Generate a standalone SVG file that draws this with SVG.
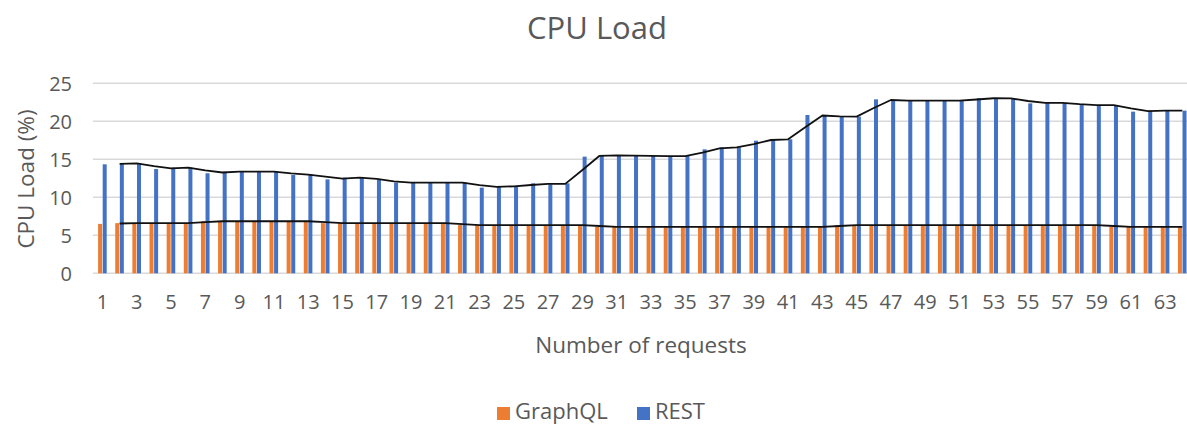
<svg xmlns="http://www.w3.org/2000/svg" width="1187" height="425" viewBox="0 0 1187 425">
<style>
text{font-family:"Open Sans","Liberation Sans",sans-serif;fill:#595959}
.grid{stroke:#D9D9D9;stroke-width:1.5}
.g{fill:#ED7D31}
.r{fill:#4472C4}
.ma{fill:none;stroke:#111;stroke-width:1.8;stroke-linejoin:round}
.yt{font-size:20px;text-anchor:end}
.xt{font-size:20px;text-anchor:middle}
</style>
<rect width="1187" height="425" fill="#fff"/>
<text x="597" y="39" font-size="31" text-anchor="middle">CPU Load</text>
<g id="gridlines">
<line class="grid" x1="93" y1="83.3" x2="1187" y2="83.3"/>
<line class="grid" x1="93" y1="121.3" x2="1187" y2="121.3"/>
<line class="grid" x1="93" y1="159.3" x2="1187" y2="159.3"/>
<line class="grid" x1="93" y1="197.3" x2="1187" y2="197.3"/>
<line class="grid" x1="93" y1="235.3" x2="1187" y2="235.3"/>
<line class="grid" x1="93" y1="273.3" x2="1187" y2="273.3"/>
</g>
<g id="y-axis">
<text class="yt" x="72" y="90.5">25</text>
<text class="yt" x="72" y="128.5">20</text>
<text class="yt" x="72" y="166.5">15</text>
<text class="yt" x="72" y="204.5">10</text>
<text class="yt" x="72" y="242.5">5</text>
<text class="yt" x="72" y="280.5">0</text>
<text transform="translate(34,179) rotate(-90)" font-size="22.5" text-anchor="middle">CPU Load (%)</text>
</g>
<g id="graphql-bars">
<rect class="g" x="98.1" y="223.9" width="4" height="49.4"/>
<rect class="g" x="115.24" y="223.14" width="4" height="50.16"/>
<rect class="g" x="132.38" y="223.14" width="4" height="50.16"/>
<rect class="g" x="149.52" y="223.14" width="4" height="50.16"/>
<rect class="g" x="166.66" y="223.14" width="4" height="50.16"/>
<rect class="g" x="183.8" y="223.14" width="4" height="50.16"/>
<rect class="g" x="200.94" y="221.24" width="4" height="52.06"/>
<rect class="g" x="218.08" y="221.24" width="4" height="52.06"/>
<rect class="g" x="235.22" y="221.24" width="4" height="52.06"/>
<rect class="g" x="252.36" y="221.24" width="4" height="52.06"/>
<rect class="g" x="269.5" y="221.24" width="4" height="52.06"/>
<rect class="g" x="286.64" y="221.24" width="4" height="52.06"/>
<rect class="g" x="303.78" y="221.24" width="4" height="52.06"/>
<rect class="g" x="320.92" y="223.14" width="4" height="50.16"/>
<rect class="g" x="338.06" y="223.14" width="4" height="50.16"/>
<rect class="g" x="355.2" y="223.14" width="4" height="50.16"/>
<rect class="g" x="372.34" y="223.14" width="4" height="50.16"/>
<rect class="g" x="389.48" y="223.14" width="4" height="50.16"/>
<rect class="g" x="406.62" y="223.14" width="4" height="50.16"/>
<rect class="g" x="423.76" y="223.14" width="4" height="50.16"/>
<rect class="g" x="440.9" y="223.14" width="4" height="50.16"/>
<rect class="g" x="458.04" y="225.04" width="4" height="48.26"/>
<rect class="g" x="475.18" y="225.04" width="4" height="48.26"/>
<rect class="g" x="492.32" y="225.04" width="4" height="48.26"/>
<rect class="g" x="509.46" y="225.04" width="4" height="48.26"/>
<rect class="g" x="526.6" y="225.04" width="4" height="48.26"/>
<rect class="g" x="543.74" y="225.04" width="4" height="48.26"/>
<rect class="g" x="560.88" y="225.04" width="4" height="48.26"/>
<rect class="g" x="578.02" y="225.04" width="4" height="48.26"/>
<rect class="g" x="595.16" y="226.94" width="4" height="46.36"/>
<rect class="g" x="612.3" y="226.94" width="4" height="46.36"/>
<rect class="g" x="629.44" y="226.94" width="4" height="46.36"/>
<rect class="g" x="646.58" y="226.94" width="4" height="46.36"/>
<rect class="g" x="663.72" y="226.94" width="4" height="46.36"/>
<rect class="g" x="680.86" y="226.94" width="4" height="46.36"/>
<rect class="g" x="698" y="226.94" width="4" height="46.36"/>
<rect class="g" x="715.14" y="226.94" width="4" height="46.36"/>
<rect class="g" x="732.28" y="226.94" width="4" height="46.36"/>
<rect class="g" x="749.42" y="226.94" width="4" height="46.36"/>
<rect class="g" x="766.56" y="226.94" width="4" height="46.36"/>
<rect class="g" x="783.7" y="226.94" width="4" height="46.36"/>
<rect class="g" x="800.84" y="226.94" width="4" height="46.36"/>
<rect class="g" x="817.98" y="226.94" width="4" height="46.36"/>
<rect class="g" x="835.12" y="225.04" width="4" height="48.26"/>
<rect class="g" x="852.26" y="225.04" width="4" height="48.26"/>
<rect class="g" x="869.4" y="225.04" width="4" height="48.26"/>
<rect class="g" x="886.54" y="225.04" width="4" height="48.26"/>
<rect class="g" x="903.68" y="225.04" width="4" height="48.26"/>
<rect class="g" x="920.82" y="225.04" width="4" height="48.26"/>
<rect class="g" x="937.96" y="225.04" width="4" height="48.26"/>
<rect class="g" x="955.1" y="225.04" width="4" height="48.26"/>
<rect class="g" x="972.24" y="225.04" width="4" height="48.26"/>
<rect class="g" x="989.38" y="225.04" width="4" height="48.26"/>
<rect class="g" x="1006.52" y="225.04" width="4" height="48.26"/>
<rect class="g" x="1023.66" y="225.04" width="4" height="48.26"/>
<rect class="g" x="1040.8" y="225.04" width="4" height="48.26"/>
<rect class="g" x="1057.94" y="225.04" width="4" height="48.26"/>
<rect class="g" x="1075.08" y="225.04" width="4" height="48.26"/>
<rect class="g" x="1092.22" y="225.04" width="4" height="48.26"/>
<rect class="g" x="1109.36" y="226.94" width="4" height="46.36"/>
<rect class="g" x="1126.5" y="226.94" width="4" height="46.36"/>
<rect class="g" x="1143.64" y="226.94" width="4" height="46.36"/>
<rect class="g" x="1160.78" y="226.94" width="4" height="46.36"/>
<rect class="g" x="1177.92" y="226.94" width="4" height="46.36"/>
</g>
<g id="rest-bars">
<rect class="r" x="102.7" y="164.32" width="4" height="108.98"/>
<rect class="r" x="119.84" y="163.33" width="4" height="109.97"/>
<rect class="r" x="136.98" y="163.33" width="4" height="109.97"/>
<rect class="r" x="154.12" y="169.03" width="4" height="104.27"/>
<rect class="r" x="171.26" y="167.66" width="4" height="105.64"/>
<rect class="r" x="188.4" y="167.66" width="4" height="105.64"/>
<rect class="r" x="205.54" y="173.28" width="4" height="100.02"/>
<rect class="r" x="222.68" y="171.69" width="4" height="101.61"/>
<rect class="r" x="239.82" y="171.69" width="4" height="101.61"/>
<rect class="r" x="256.96" y="171.69" width="4" height="101.61"/>
<rect class="r" x="274.1" y="171.69" width="4" height="101.61"/>
<rect class="r" x="291.24" y="175.03" width="4" height="98.27"/>
<rect class="r" x="308.38" y="174.04" width="4" height="99.26"/>
<rect class="r" x="325.52" y="179.36" width="4" height="93.94"/>
<rect class="r" x="342.66" y="177.69" width="4" height="95.61"/>
<rect class="r" x="359.8" y="177.69" width="4" height="95.61"/>
<rect class="r" x="376.94" y="179.97" width="4" height="93.33"/>
<rect class="r" x="394.08" y="182.63" width="4" height="90.67"/>
<rect class="r" x="411.22" y="182.63" width="4" height="90.67"/>
<rect class="r" x="428.36" y="182.63" width="4" height="90.67"/>
<rect class="r" x="445.5" y="182.63" width="4" height="90.67"/>
<rect class="r" x="462.64" y="182.63" width="4" height="90.67"/>
<rect class="r" x="479.78" y="187.65" width="4" height="85.65"/>
<rect class="r" x="496.92" y="185.98" width="4" height="87.32"/>
<rect class="r" x="514.06" y="186.66" width="4" height="86.64"/>
<rect class="r" x="531.2" y="183.32" width="4" height="89.98"/>
<rect class="r" x="548.34" y="184.38" width="4" height="88.92"/>
<rect class="r" x="565.48" y="183.32" width="4" height="89.98"/>
<rect class="r" x="582.62" y="156.64" width="4" height="116.66"/>
<rect class="r" x="599.76" y="154.97" width="4" height="118.33"/>
<rect class="r" x="616.9" y="155.65" width="4" height="117.65"/>
<rect class="r" x="634.04" y="155.65" width="4" height="117.65"/>
<rect class="r" x="651.18" y="156.03" width="4" height="117.27"/>
<rect class="r" x="668.32" y="156.03" width="4" height="117.27"/>
<rect class="r" x="685.46" y="156.03" width="4" height="117.27"/>
<rect class="r" x="702.6" y="149.34" width="4" height="123.96"/>
<rect class="r" x="719.74" y="147.37" width="4" height="125.93"/>
<rect class="r" x="736.88" y="147.37" width="4" height="125.93"/>
<rect class="r" x="754.02" y="140.68" width="4" height="132.62"/>
<rect class="r" x="771.16" y="139.31" width="4" height="133.99"/>
<rect class="r" x="788.3" y="139.31" width="4" height="133.99"/>
<rect class="r" x="805.44" y="114.99" width="4" height="158.31"/>
<rect class="r" x="822.58" y="115.98" width="4" height="157.32"/>
<rect class="r" x="839.72" y="116.66" width="4" height="156.64"/>
<rect class="r" x="856.86" y="116.66" width="4" height="156.64"/>
<rect class="r" x="874" y="99.34" width="4" height="173.96"/>
<rect class="r" x="891.14" y="100.7" width="4" height="172.6"/>
<rect class="r" x="908.28" y="100.7" width="4" height="172.6"/>
<rect class="r" x="925.42" y="100.7" width="4" height="172.6"/>
<rect class="r" x="942.56" y="100.7" width="4" height="172.6"/>
<rect class="r" x="959.7" y="100.7" width="4" height="172.6"/>
<rect class="r" x="976.84" y="98.27" width="4" height="175.03"/>
<rect class="r" x="993.98" y="98.27" width="4" height="175.03"/>
<rect class="r" x="1011.12" y="98.65" width="4" height="174.65"/>
<rect class="r" x="1028.26" y="103.36" width="4" height="169.94"/>
<rect class="r" x="1045.4" y="102.3" width="4" height="171"/>
<rect class="r" x="1062.54" y="103.36" width="4" height="169.94"/>
<rect class="r" x="1079.68" y="105.04" width="4" height="168.26"/>
<rect class="r" x="1096.82" y="105.04" width="4" height="168.26"/>
<rect class="r" x="1113.96" y="105.04" width="4" height="168.26"/>
<rect class="r" x="1131.1" y="111.65" width="4" height="161.65"/>
<rect class="r" x="1148.24" y="110.66" width="4" height="162.64"/>
<rect class="r" x="1165.38" y="110.66" width="4" height="162.64"/>
<rect class="r" x="1182.52" y="110.66" width="4" height="162.64"/>
</g>
<g id="trendlines">
<polyline class="ma" points="119.64,163.83 136.78,163.33 153.92,166.18 171.06,168.35 188.2,167.66 205.34,170.47 222.48,172.49 239.62,171.69 256.76,171.69 273.9,171.69 291.04,173.36 308.18,174.54 325.32,176.7 342.46,178.53 359.6,177.69 376.74,178.83 393.88,181.3 411.02,182.63 428.16,182.63 445.3,182.63 462.44,182.63 479.58,185.14 496.72,186.82 513.86,186.32 531,184.99 548.14,183.85 565.28,183.85 582.42,169.98 599.56,155.81 616.7,155.31 633.84,155.65 650.98,155.84 668.12,156.03 685.26,156.03 702.4,152.69 719.54,148.36 736.68,147.37 753.82,144.03 770.96,140 788.1,139.31 805.24,127.15 822.38,115.49 839.52,116.32 856.66,116.66 873.8,108 890.94,100.02 908.08,100.7 925.22,100.7 942.36,100.7 959.5,100.7 976.64,99.49 993.78,98.27 1010.92,98.46 1028.06,101 1045.2,102.83 1062.34,102.83 1079.48,104.2 1096.62,105.04 1113.76,105.04 1130.9,108.35 1148.04,111.16 1165.18,110.66 1182.32,110.66"/>
<polyline class="ma" points="119.64,223.52 136.78,223.14 153.92,223.14 171.06,223.14 188.2,223.14 205.34,222.19 222.48,221.24 239.62,221.24 256.76,221.24 273.9,221.24 291.04,221.24 308.18,221.24 325.32,222.19 342.46,223.14 359.6,223.14 376.74,223.14 393.88,223.14 411.02,223.14 428.16,223.14 445.3,223.14 462.44,224.09 479.58,225.04 496.72,225.04 513.86,225.04 531,225.04 548.14,225.04 565.28,225.04 582.42,225.04 599.56,225.99 616.7,226.94 633.84,226.94 650.98,226.94 668.12,226.94 685.26,226.94 702.4,226.94 719.54,226.94 736.68,226.94 753.82,226.94 770.96,226.94 788.1,226.94 805.24,226.94 822.38,226.94 839.52,225.99 856.66,225.04 873.8,225.04 890.94,225.04 908.08,225.04 925.22,225.04 942.36,225.04 959.5,225.04 976.64,225.04 993.78,225.04 1010.92,225.04 1028.06,225.04 1045.2,225.04 1062.34,225.04 1079.48,225.04 1096.62,225.04 1113.76,225.99 1130.9,226.94 1148.04,226.94 1165.18,226.94 1182.32,226.94"/>
</g>
<g id="x-axis">
<text class="xt" x="102.5" y="309">1</text>
<text class="xt" x="136.78" y="309">3</text>
<text class="xt" x="171.06" y="309">5</text>
<text class="xt" x="205.34" y="309">7</text>
<text class="xt" x="239.62" y="309">9</text>
<text class="xt" x="273.9" y="309">11</text>
<text class="xt" x="308.18" y="309">13</text>
<text class="xt" x="342.46" y="309">15</text>
<text class="xt" x="376.74" y="309">17</text>
<text class="xt" x="411.02" y="309">19</text>
<text class="xt" x="445.3" y="309">21</text>
<text class="xt" x="479.58" y="309">23</text>
<text class="xt" x="513.86" y="309">25</text>
<text class="xt" x="548.14" y="309">27</text>
<text class="xt" x="582.42" y="309">29</text>
<text class="xt" x="616.7" y="309">31</text>
<text class="xt" x="650.98" y="309">33</text>
<text class="xt" x="685.26" y="309">35</text>
<text class="xt" x="719.54" y="309">37</text>
<text class="xt" x="753.82" y="309">39</text>
<text class="xt" x="788.1" y="309">41</text>
<text class="xt" x="822.38" y="309">43</text>
<text class="xt" x="856.66" y="309">45</text>
<text class="xt" x="890.94" y="309">47</text>
<text class="xt" x="925.22" y="309">49</text>
<text class="xt" x="959.5" y="309">51</text>
<text class="xt" x="993.78" y="309">53</text>
<text class="xt" x="1028.06" y="309">55</text>
<text class="xt" x="1062.34" y="309">57</text>
<text class="xt" x="1096.62" y="309">59</text>
<text class="xt" x="1130.9" y="309">61</text>
<text class="xt" x="1165.18" y="309">63</text>
<text x="641" y="353" font-size="22.5" text-anchor="middle">Number of requests</text>
</g>
<g id="legend">
<rect class="g" x="497" y="407" width="13" height="13"/>
<text x="515" y="419" font-size="22">GraphQL</text>
<rect class="r" x="637" y="407" width="13" height="13"/>
<text x="655" y="419" font-size="22">REST</text>
</g>
</svg>
